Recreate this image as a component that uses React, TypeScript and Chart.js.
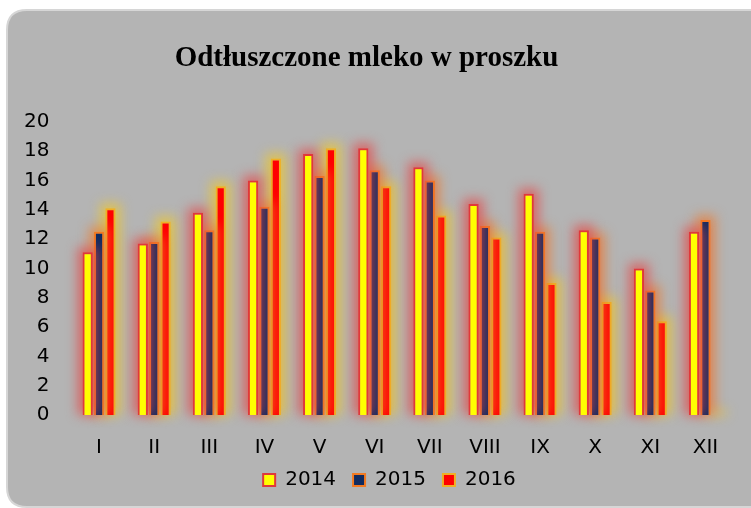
import React, { useEffect, useRef } from "react";
import { Chart, registerables } from "chart.js";

Chart.register(...registerables);

const categories = ["I", "II", "III", "IV", "V", "VI", "VII", "VIII", "IX", "X", "XI", "XII"];
const series2014 = [11.1, 11.7, 13.8, 16.0, 17.8, 18.2, 16.9, 14.4, 15.1, 12.6, 10.0, 12.5];
const series2015 = [12.5, 11.8, 12.6, 14.2, 16.3, 16.7, 16.0, 12.9, 12.5, 12.1, 8.5, 13.3];
const series2016 = [14.1, 13.2, 15.6, 17.5, 18.2, 15.6, 13.6, 12.1, 9.0, 7.7, 6.4, null];
const seriesLabels = ["2014", "2015", "2016"];
const titleText = "Odtłuszczone mleko w proszku";

const glowColors = ["rgba(228,70,70,0.7)", "rgba(240,120,40,0.65)", "rgba(240,200,40,0.7)"];

const backgroundPlugin = {
  id: "panelBg",
  beforeDraw(chart: any) {
    const ctx = chart.ctx;
    const x = 7, y = 10, w = 744 + 20, h = 497, r = 20;
    ctx.save();
    ctx.fillStyle = "#ffffff";
    ctx.fillRect(0, 0, chart.width, chart.height);
    ctx.beginPath();
    ctx.moveTo(x + r, y);
    ctx.lineTo(x + w - r, y);
    ctx.quadraticCurveTo(x + w, y, x + w, y + r);
    ctx.lineTo(x + w, y + h - r);
    ctx.quadraticCurveTo(x + w, y + h, x + w - r, y + h);
    ctx.lineTo(x + r, y + h);
    ctx.quadraticCurveTo(x, y + h, x, y + h - r);
    ctx.lineTo(x, y + r);
    ctx.quadraticCurveTo(x, y, x + r, y);
    ctx.closePath();
    ctx.fillStyle = "#b4b4b4";
    ctx.fill();
    ctx.lineWidth = 2;
    ctx.strokeStyle = "#d6d6d6";
    ctx.stroke();
    ctx.restore();
  },
};

const glowPlugin = {
  id: "barGlow",
  beforeDatasetDraw(chart: any, args: any) {
    const ctx = chart.ctx;
    const meta = chart.getDatasetMeta(args.index);
    ctx.save();
    ctx.filter = "blur(6px)";
    ctx.fillStyle = glowColors[args.index] || "rgba(0,0,0,0)";
    meta.data.forEach((el: any) => {
      if (el.skip || el.y == null || isNaN(el.y)) return;
      const w = el.width;
      const top = Math.min(el.y, el.base);
      const h = Math.abs(el.base - el.y);
      ctx.fillRect(el.x - w / 2 - 5, top - 5, w + 10, h + 5);
    });
    ctx.restore();
  },
};

const legendShiftPlugin = {
  id: "legendShift",
  afterLayout(chart: any) {
    const lg = chart.legend;
    if (lg) {
      lg.left += 23;
      lg.right += 23;
      lg.top -= 6;
      lg.bottom -= 6;
    }
  },
};

export default function App() {
  const ref = useRef<HTMLCanvasElement | null>(null);
  useEffect(() => {
    if (!ref.current) return;
    const font = "'DejaVu Sans', sans-serif";
    const chart = new Chart(ref.current, {
      type: "bar",
      data: {
        labels: categories,
        datasets: [
          { label: seriesLabels[0], data: series2014, backgroundColor: "#ffff00", borderColor: "#e0383a", borderWidth: 2 },
          { label: seriesLabels[1], data: series2015, backgroundColor: "#102b60", borderColor: "#f27a22", borderWidth: 2 },
          { label: seriesLabels[2], data: series2016 as any, backgroundColor: "#ff0000", borderColor: "#f0b024", borderWidth: 2 },
        ],
      },
      options: {
        responsive: false,
        animation: false,
        layout: { padding: { left: 0, right: 18, top: 0, bottom: 2 } },
        datasets: { bar: { categoryPercentage: 0.62, barPercentage: 0.9 } },
        plugins: {
          title: {
            display: true,
            text: titleText,
            color: "#000000",
            font: { family: "'Liberation Serif', 'Times New Roman', serif", size: 29, weight: "bold" },
            padding: { top: 41, bottom: 46 },
          },
          legend: {
            display: true,
            position: "bottom",
            labels: {
              color: "#000000",
              font: { family: font, size: 20, lineHeight: 1 },
              boxWidth: 12,
              boxHeight: 12,
              padding: 17,
            },
          },
          tooltip: { enabled: false },
        },
        scales: {
          x: {
            grid: { display: false, drawTicks: false },
            border: { display: false },
            ticks: { color: "#000000", font: { family: font, size: 20, lineHeight: 1 }, padding: 23 },
            afterFit(scale: any) {
              scale.height = 44;
            },
          },
          y: {
            min: 0,
            max: 20,
            grid: { display: false, drawTicks: false },
            border: { display: false },
            ticks: { stepSize: 2, color: "#000000", font: { family: font, size: 20 }, padding: 22 },
            afterFit(scale: any) {
              scale.width = 71.5;
            },
          },
        },
      },
      plugins: [backgroundPlugin, glowPlugin, legendShiftPlugin],
    } as any);
    return () => chart.destroy();
  }, []);
  return (
    <div style={{ position: "fixed", left: 0, top: 0, width: 751, height: 508 }}>
      <canvas ref={ref} width={751} height={508} style={{ display: "block" }} />
    </div>
  );
}
